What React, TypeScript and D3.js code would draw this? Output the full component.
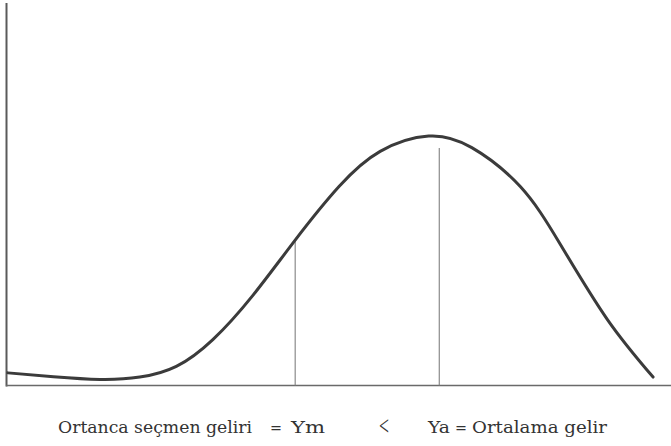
import React from "react";
import * as d3 from "d3";

// Income distribution curve: income index (x) vs. share of voters (y)
const incomeIndex = [0.15, 7.0, 14.0, 20.0, 25.5, 31.0, 37.0, 43.4, 50.0, 56.2, 63.5, 70.0, 77.3, 83.3, 90.4, 97.3];
const voterShare = [3.3, 2.3, 1.6, 2.2, 5.0, 12.0, 23.5, 38.0, 52.0, 61.2, 65.2, 62.2, 52.0, 37.0, 17.3, 2.2];

// Reference incomes marked with vertical lines
const markerIncome = [43.4, 65.1];
const markerTop = [38.0, 62.1];

// Caption pieces under the axis
const captionParts = ["Ortanca seçmen geliri", "=", "Ym", "<", "Ya", "=", "Ortalama gelir"];

const W = 671;
const H = 446;

export default function App() {
  const x = d3.scaleLinear().domain([0, 100]).range([7, 671]);
  const y = d3.scaleLinear().domain([0, 100]).range([385.5, 3]);

  const pts = incomeIndex.map((v, i) => [v, voterShare[i]] as [number, number]);
  const line = d3
    .line<[number, number]>()
    .x((d) => x(d[0]))
    .y((d) => y(d[1]))
    .curve(d3.curveNatural);

  const textStyle = {
    fontFamily: "'DejaVu Serif', serif",
    fontSize: 17,
    fill: "#333",
  } as const;

  // caption layout: [x, width, font size]
  const captionLayout: [number, number, number][] = [
    [58, 194, 17],
    [270, 12, 17],
    [291, 34, 17],
    [379, 10, 27],
    [428, 22, 17],
    [455, 12, 17],
    [472, 135, 17],
  ];

  return (
    <svg
      width={W}
      height={H}
      style={{ position: "absolute", left: 0, top: 0, background: "#fff" }}
    >
      <rect x={0} y={0} width={W} height={H} fill="#fff" />
      {/* axes */}
      <line x1={x(0) - 0.5} x2={x(0) - 0.5} y1={y(100)} y2={y(0) + 1} stroke="#5a5a5a" strokeWidth={2} />
      <line x1={x(0) - 1} x2={x(100)} y1={y(0)} y2={y(0)} stroke="#6a6a6a" strokeWidth={1.6} />

      {/* median / mean markers */}
      {markerIncome.map((m, i) => (
        <line
          key={i}
          x1={x(m)}
          x2={x(m)}
          y1={y(markerTop[i])}
          y2={y(0)}
          stroke="#808080"
          strokeWidth={1.1}
        />
      ))}

      {/* distribution curve */}
      <path
        d={line(pts) || ""}
        fill="none"
        stroke="#3b3b3b"
        strokeWidth={3}
        strokeLinecap="round"
        strokeLinejoin="round"
      />

      {/* caption */}
      {captionParts.map((t, i) => (
        <text
          key={i}
          x={captionLayout[i][0]}
          y={i === 3 ? 435 : 433}
          textLength={captionLayout[i][1]}
          lengthAdjust="spacingAndGlyphs"
          style={{
            ...textStyle,
            fontSize: captionLayout[i][2],
            fontFamily: i === 3 ? "'Liberation Serif', serif" : textStyle.fontFamily,
          }}
        >
          {t}
        </text>
      ))}
    </svg>
  );
}
